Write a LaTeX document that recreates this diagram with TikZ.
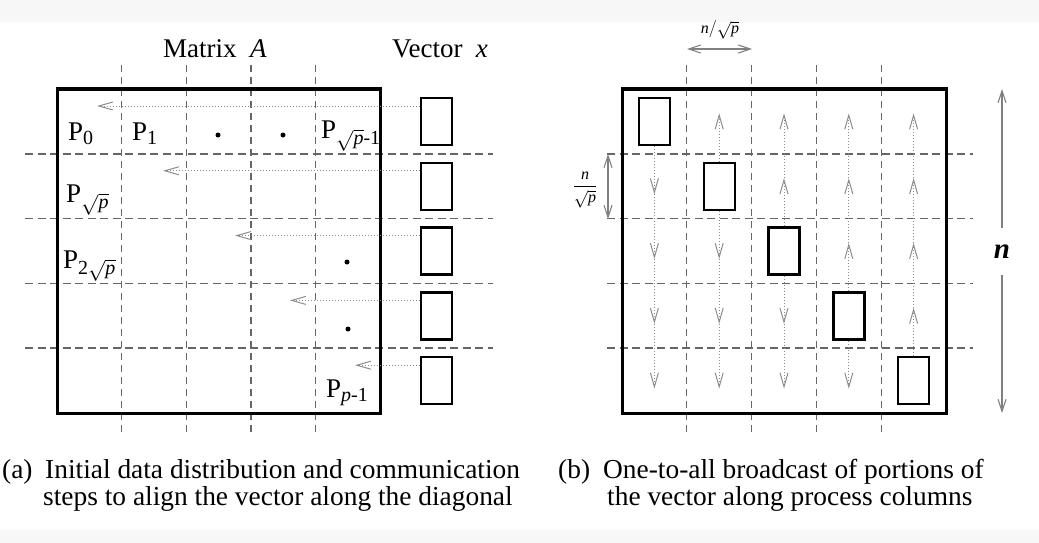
\documentclass[tikz,border=0pt]{standalone}
\usepackage{amsmath}
\usepackage{fontspec}
\setmainfont{Liberation Serif}
\usetikzlibrary{arrows.meta}
\DeclareMathSizes{27}{27}{20}{15}
\newcommand\figbig{\fontsize{27}{30}\selectfont}
\newcommand\figcap{\fontsize{27.4}{27}\selectfont}
\begin{document}
\begin{tikzpicture}[x=1pt,y=-1pt,
  matframe/.style={line width=3pt},
  vbox/.style={draw, fill=white, line width=2.4pt, minimum width=31pt, minimum height=47pt, inner sep=0pt},
  hgrid/.style={draw=black!60, line width=1.5pt, dash pattern=on 8pt off 4.5pt},
  vgrid/.style={draw=black!60, line width=1.3pt, dash pattern=on 7pt off 5pt},
  flow/.style={draw=black!45, line width=1pt, dash pattern=on 1pt off 2pt,
    -{Straight Barb[length=14pt,width=8pt,line width=1pt]}},
  dimarrow/.style={draw=black!50, line width=1.1pt,
    -{Straight Barb[length=12pt,width=8pt,line width=1.1pt]}},
  dimboth/.style={draw=black!50, line width=1.1pt,
    {Straight Barb[length=12pt,width=8pt,line width=1.1pt]}-{Straight Barb[length=12pt,width=8pt,line width=1.1pt]}},
  lab/.style={font=\figbig, inner sep=0pt},
  captext/.style={font=\figcap, inner sep=0pt},
  dotn/.style={circle, fill=black, inner sep=0pt, minimum size=5pt},
]
\useasboundingbox (0,0) rectangle (1039,543);
\fill[black!3] (0,0) rectangle (1039,22);
\fill[black!3] (0,530) rectangle (1039,543);

% ---------------- left panel ----------------
\foreach \k in {1,...,4}{
  \draw[vgrid] (57+64.7*\k,65) -- (57+64.7*\k,432);
  \draw[hgrid] (25,89+64.8*\k) -- (493,89+64.8*\k);
}
\draw[matframe] (57,89) rectangle (380,413);

\node[lab, anchor=base] (matA) at (215,58) {Matrix\ \ \textit{A}};
\node[lab, anchor=base] (vecx) at (440,58) {Vector\ \ \textit{x}};

\foreach \i in {0,...,4}{
  \node[vbox] (v\i) at (436.5,121.4+64.8*\i) {};
}
\foreach \i/\tx in {0/97,1/163,2/235,3/290,4/355}{
  \coordinate (l\i) at (\tx,106+64.8*\i);
  \draw[flow] (v\i.west |- l\i) -- (l\i);
}

\node[lab, anchor=base west] (p0) at (68,140) {P$_{\text{0}}$};
\node[lab, anchor=base west] (p1) at (132,140) {P$_{\text{1}}$};
\node[dotn] (dt1) at (218,135) {};
\node[dotn] (dt2) at (283,135) {};
\node[lab, anchor=base west] (psq1) at (321,138) {P$_{\sqrt{\textit{p}}\text{-1}}$};
\node[lab, anchor=base west] (psq) at (66,202) {P$_{\sqrt{\textit{p}}}$};
\node[lab, anchor=base west] (p2sq) at (63,268) {P$_{\text{2}\sqrt{\textit{p}}}$};
\node[dotn] (dt3) at (347,262) {};
\node[dotn] (dt4) at (348,329) {};
\node[lab, anchor=base west] (plast) at (326,397) {P$_{\textit{p}\text{-1}}$};

\node[captext, anchor=base west] (capa) at (2,478) {(a)};
\node[captext, anchor=base west] (capa1) at (45,478) {Initial data distribution and communication};
\node[captext, anchor=base west] (capa2) at (43,505) {steps to align the vector along the diagonal};

% ---------------- right panel ----------------
\foreach \k in {1,...,4}{
  \draw[vgrid] (622+64.8*\k,65) -- (622+64.8*\k,432);
  \draw[hgrid] (607,89+64.8*\k) -- (973,89+64.8*\k);
}
\draw[matframe] (622,89) rectangle (946,413);

\foreach \j in {0,...,4}{
  \node[vbox] (d\j) at (654.4+64.8*\j,121.4+64.8*\j) {};
}
% upward broadcasts (rows above the diagonal)
\foreach \j in {1,...,4}{
  \foreach \i in {3,2,1,0}{
    \ifnum\i<\j
      \pgfmathtruncatemacro\nxt{\i+1}
      \coordinate (u\i-\j) at (654.4+64.8*\j,113.4+64.8*\i);
      \ifnum\nxt=\j
        \draw[flow] (d\j.north) -- (u\i-\j);
      \else
        \draw[flow] (u\nxt-\j) -- (u\i-\j);
      \fi
    \fi
  }
}
% downward broadcasts (rows below the diagonal)
\foreach \j in {0,...,3}{
  \foreach \i in {1,2,3,4}{
    \ifnum\i>\j
      \pgfmathtruncatemacro\prv{\i-1}
      \coordinate (w\i-\j) at (654.4+64.8*\j,129.4+64.8*\i);
      \ifnum\prv=\j
        \draw[flow] (d\j.south) -- (w\i-\j);
      \else
        \draw[flow] (w\prv-\j) -- (w\i-\j);
      \fi
    \fi
  }
}

\node[font=\fontsize{16}{18}\selectfont, inner sep=0pt] (wlab) at (720,30) {$\textit{n}/\sqrt{\textit{p}}$};
\coordinate (wl) at (687,49);
\coordinate (wr) at (752,49);
\draw[dimboth] (wl) -- (wr);

\node[font=\fontsize{16}{18}\selectfont, inner sep=0pt] (hlab) at (585,190) {$\dfrac{\textit{n}}{\rule{0pt}{13pt}\sqrt{\textit{p}}}$};
\coordinate (ht) at (608,154);
\coordinate (hb) at (608,219);
\draw[dimboth] (ht) -- (hb);

\node[font=\fontsize{29}{30}\selectfont\bfseries\itshape, inner sep=0pt, minimum height=47pt] (nlab) at (1002,251.5) {n};
\coordinate (ntop) at (1002,89);
\coordinate (nbot) at (1002,413);
\draw[dimarrow] (nlab.north) -- (ntop);
\draw[dimarrow] (nlab.south) -- (nbot);

\node[captext, anchor=base west] (capb) at (558,478) {(b)};
\node[captext, anchor=base west] (capb1) at (603,478) {One-to-all broadcast of portions of};
\node[captext, anchor=base west] (capb2) at (607,505) {the vector along process columns};
\end{tikzpicture}
\end{document}
